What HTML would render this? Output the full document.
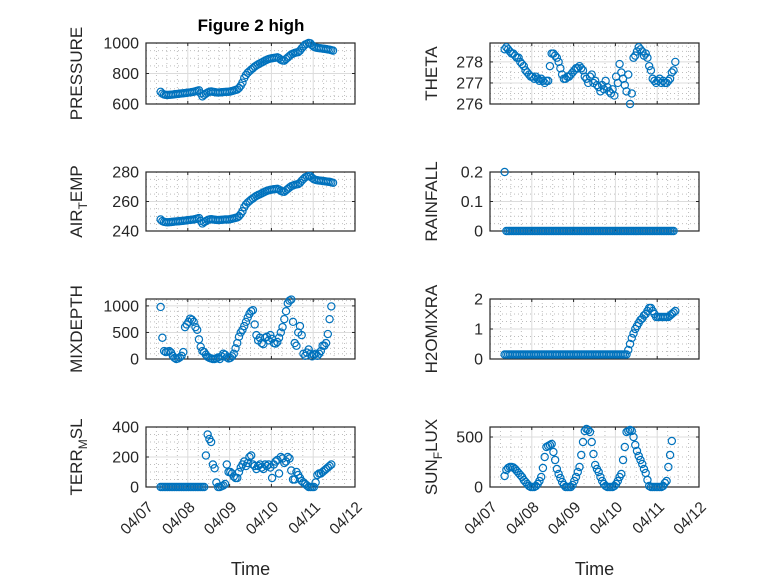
<!DOCTYPE html>
<html><head><meta charset="utf-8"><style>
html,body{margin:0;padding:0;background:#fff;}
svg{display:block;font-family:"Liberation Sans","DejaVu Sans",sans-serif;}
</style></head><body>
<svg id="fig" width="778" height="583" viewBox="0 0 778 583">
<rect width="778" height="583" fill="#fff"/>
<text x="251" y="31" text-anchor="middle" font-size="17" font-weight="bold" fill="#000">Figure 2 high</text>
</svg>
<script>
// shared time grid: days after 04/07 00:00, hourly samples
const tStart = 0.35;
const tStep = 1/24;
const xTickLabels = ["04/07","04/08","04/09","04/10","04/11","04/12"];

const pressureVals = [680,668,662,660,659,660,661,662,664,665,666,668,669,670,672,673,675,676,678,680,683,686,690,670,650,660,668,675,680,682,680,678,676,675,676,677,678,679,680,680,682,685,688,692,695,705,720,740,770,790,805,815,826,835,845,853,860,866,872,878,885,890,895,898,900,902,904,906,900,890,885,884,895,905,915,925,930,935,938,940,950,965,978,990,995,1000,998,985,975,970,968,966,965,963,962,960,958,956,953,950];
const airTempVals = [247.8,246.7,246.2,246.0,245.9,246.0,246.1,246.2,246.4,246.5,246.6,246.7,246.8,246.9,247.1,247.2,247.4,247.5,247.7,247.8,248.1,248.4,248.8,246.9,245.1,246.0,246.7,247.4,247.8,248.0,247.8,247.7,247.5,247.4,247.5,247.6,247.7,247.8,247.8,247.8,248.0,248.3,248.6,248.9,249.2,250.1,251.5,253.4,256.1,258.0,259.3,260.3,261.3,262.1,263.0,263.8,264.4,264.9,265.5,266.1,266.7,267.2,267.6,267.9,268.1,268.3,268.4,268.6,268.1,267.2,266.7,266.6,267.6,268.5,269.5,270.4,270.8,271.3,271.6,271.8,272.7,274.1,275.3,276.4,276.9,277.3,277.2,276.0,275.1,274.6,274.4,274.2,274.1,273.9,273.8,273.6,273.4,273.3,273.0,272.7];
const mixDepthVals = [980,400,150,130,140,150,120,60,20,0,10,30,60,130,600,650,700,760,740,700,600,550,370,230,150,130,80,40,20,10,0,0,10,30,0,50,100,80,30,10,20,50,100,200,300,420,500,550,620,700,780,850,900,920,650,450,350,400,300,280,400,420,350,450,380,300,290,320,400,500,600,750,900,1050,1100,1120,700,300,250,500,620,450,100,60,120,180,100,50,80,100,60,100,150,250,250,300,470,750,990];
const terrMslVals = [0,0,0,0,0,0,0,0,0,0,0,0,0,0,0,0,0,0,0,0,0,0,0,0,0,0,210,350,320,300,150,125,30,0,0,5,10,20,150,100,100,90,70,60,60,100,130,150,170,140,160,200,210,150,140,120,140,150,130,120,150,140,150,130,60,150,170,180,90,200,190,160,170,200,190,110,50,50,100,80,60,40,30,20,10,0,0,0,0,30,80,90,90,100,110,120,130,140,150];
const thetaVals = [278.6,278.7,278.6,278.5,278.4,278.4,278.3,278.2,278.2,278.0,277.9,277.8,277.6,277.5,277.4,277.3,277.3,277.2,277.3,277.2,277.1,277.2,277.1,277.0,277.1,277.1,277.8,278.4,278.4,278.3,278.2,278.0,277.7,277.4,277.2,277.2,277.3,277.3,277.4,277.5,277.6,277.7,277.7,277.8,277.7,277.6,277.3,277.2,277.0,277.3,277.4,277.0,277.1,276.9,276.8,276.6,276.9,276.7,277.1,276.8,276.6,276.5,276.7,276.4,277.3,277.0,277.9,277.5,277.2,276.9,276.6,277.4,276.0,276.5,278.2,278.3,278.5,278.7,278.6,278.5,278.3,278.4,278.2,277.8,277.6,277.2,277.1,277.0,277.1,277.2,277.0,277.1,277.0,277.0,277.1,277.2,277.5,277.6,278.0];
const rainfallVals = [0.2,0,0,0,0,0,0,0,0,0,0,0,0,0,0,0,0,0,0,0,0,0,0,0,0,0,0,0,0,0,0,0,0,0,0,0,0,0,0,0,0,0,0,0,0,0,0,0,0,0,0,0,0,0,0,0,0,0,0,0,0,0,0,0,0,0,0,0,0,0,0,0,0,0,0,0,0,0,0,0,0,0,0,0,0,0,0,0,0,0,0,0,0,0,0,0,0,0];
const h2oVals = [0.15,0.15,0.15,0.15,0.15,0.15,0.15,0.15,0.15,0.15,0.15,0.15,0.15,0.15,0.15,0.15,0.15,0.15,0.15,0.15,0.15,0.15,0.15,0.15,0.15,0.15,0.15,0.15,0.15,0.15,0.15,0.15,0.15,0.15,0.15,0.15,0.15,0.15,0.15,0.15,0.15,0.15,0.15,0.15,0.15,0.15,0.15,0.15,0.15,0.15,0.15,0.15,0.15,0.15,0.15,0.15,0.15,0.15,0.15,0.15,0.15,0.15,0.15,0.15,0.15,0.15,0.15,0.15,0.15,0.15,0.15,0.3,0.5,0.7,0.85,1.0,1.1,1.2,1.3,1.35,1.45,1.5,1.6,1.7,1.7,1.6,1.5,1.4,1.4,1.4,1.4,1.4,1.4,1.4,1.4,1.45,1.5,1.55,1.6];
const sunFluxVals = [110,170,190,200,200,195,180,160,140,120,100,70,50,30,10,0,0,0,10,30,60,100,190,300,400,410,420,430,350,270,180,130,90,50,20,0,0,0,0,20,60,100,150,200,320,450,560,580,570,550,450,330,220,180,150,100,60,30,10,0,0,0,0,10,30,60,100,130,270,400,550,560,570,560,500,420,360,310,270,230,180,140,70,10,0,0,0,0,0,0,0,10,40,60,200,320,460];

const pressureTicks = [600,800,1000];
const thetaTicks = [276,277,278];
const airTempTicks = [240,260,280];
const rainfallTicks = [0,0.1,0.2];
const mixDepthTicks = [0,500,1000];
const h2oTicks = [0,1,2];
const terrTicks = [0,200,400];
const sunTicks = [0,500];

const NS = "http://www.w3.org/2000/svg";
const svg = document.getElementById("fig");
function mk(tag, attrs, parent){
  const e = document.createElementNS(NS, tag);
  for (const k in attrs) e.setAttribute(k, attrs[k]);
  (parent||svg).appendChild(e);
  return e;
}
const panels = [
  {id:"pressure", vals:pressureVals, ticks:pressureTicks, ymin:600, ymax:1000, minor:50, x0:146, y0:43, y1:104, lo:69, label:["PRESSURE"]},
  {id:"theta", vals:thetaVals, ticks:thetaTicks, ymin:276, ymax:278.9, minor:0.25, x0:490, y0:43, y1:104, lo:58, label:["THETA"]},
  {id:"air-temp", vals:airTempVals, ticks:airTempTicks, ymin:240, ymax:280, minor:5, x0:146, y0:172, y1:231, lo:69, label:["AIR","T","EMP"]},
  {id:"rainfall", vals:rainfallVals, ticks:rainfallTicks, ymin:0, ymax:0.2, minor:0.025, x0:490, y0:172, y1:231, lo:58, label:["RAINFALL"]},
  {id:"mixdepth", vals:mixDepthVals, ticks:mixDepthTicks, ymin:0, ymax:1130, minor:100, x0:146, y0:299, y1:359, lo:69, label:["MIXDEPTH"]},
  {id:"h2omixra", vals:h2oVals, ticks:h2oTicks, ymin:0, ymax:2, minor:0.25, x0:490, y0:299, y1:359, lo:58, label:["H2OMIXRA"]},
  {id:"terr-msl", vals:terrMslVals, ticks:terrTicks, ymin:0, ymax:400, minor:50, x0:146, y0:427, y1:487, lo:69, label:["TERR","M","SL"], bottom:true},
  {id:"sun-flux", vals:sunFluxVals, ticks:sunTicks, ymin:0, ymax:600, minor:100, x0:490, y0:427, y1:487, lo:58, label:["SUN","F","LUX"], bottom:true}
];
const W = 209, XDAYS = 5;
panels.forEach(p=>{
  const g = mk("g", {});
  
  
  const xs = d => p.x0 + d / XDAYS * W;
  const ys = v => p.y1 - (v - p.ymin) / (p.ymax - p.ymin) * (p.y1 - p.y0);
  mk("rect", {x:p.x0, y:p.y0, width:W, height:p.y1-p.y0, fill:"#fff"}, g);
  for (let h = 0; h <= XDAYS*4; h++) {
    if (h % 4 === 0) continue;
    const x = xs(h/4);
    mk("line", {x1:x, x2:x, y1:p.y0, y2:p.y1, stroke:"#bdbdbd", "stroke-width":1, "stroke-dasharray":"1,3"}, g);
  }
  for (let v = p.ymin + p.minor; v < p.ymax - 1e-9; v += p.minor) {
    if (p.ticks.some(t => Math.abs(t - v) < 1e-6)) continue;
    const y = ys(v);
    mk("line", {x1:p.x0, x2:p.x0+W, y1:y, y2:y, stroke:"#bdbdbd", "stroke-width":1, "stroke-dasharray":"1,3"}, g);
  }
  xTickLabels.forEach((lab, k) => {
    const x = xs(k);
    mk("line", {x1:x, x2:x, y1:p.y0, y2:p.y1, stroke:"#dcdcdc", "stroke-width":1}, g);
    mk("line", {x1:x, x2:x, y1:p.y1, y2:p.y1-3, stroke:"#262626", "stroke-width":1}, g);
    mk("line", {x1:x, x2:x, y1:p.y0, y2:p.y0+3, stroke:"#262626", "stroke-width":1}, g);
    if (p.bottom) {
      const ax = x + 8, ay = p.y1 + 21;
      const tx = mk("text", {x:ax, y:ay, "text-anchor":"end", "font-size":15.5, fill:"#262626",
        transform:"rotate(-45 " + ax + " " + ay + ")"}, g);
      tx.textContent = lab;
      
      
    }
  });
  p.ticks.forEach(t => {
    const y = ys(t);
    if (y > p.y0 + 1 && y < p.y1 - 1) mk("line", {x1:p.x0, x2:p.x0+W, y1:y, y2:y, stroke:"#dcdcdc", "stroke-width":1}, g);
    mk("line", {x1:p.x0, x2:p.x0+3, y1:y, y2:y, stroke:"#262626", "stroke-width":1}, g);
    mk("line", {x1:p.x0+W, x2:p.x0+W-3, y1:y, y2:y, stroke:"#262626", "stroke-width":1}, g);
    const tl = mk("text", {x:p.x0-7, y:y+5.5, "text-anchor":"end", "font-size":16, fill:"#262626"}, g);
    tl.textContent = String(t);
    
    
  });
  mk("rect", {x:p.x0, y:p.y0, width:W, height:p.y1-p.y0, fill:"none", stroke:"#262626", "stroke-width":1.2}, g);
  const sg = mk("g", {fill:"none", stroke:"#0072BD", "stroke-width":1.2}, g);
  
  
  p.vals.forEach((v, i) => {
    const c = mk("circle", {cx:xs(tStart + i*tStep), cy:ys(v), r:3.6}, sg);
    
    
  });
  const lx = p.x0 - p.lo + 5, ly = (p.y0 + p.y1) / 2;
  const yl = mk("text", {x:lx, y:ly, "text-anchor":"middle", "font-size":17, fill:"#262626",
    transform:"rotate(-90 " + lx + " " + ly + ")"}, g);
  
  
  if (p.label.length === 1) { yl.textContent = p.label[0]; }
  else {
    const a = mk("tspan", {}, yl); a.textContent = p.label[0];
    const b = mk("tspan", {"font-size":12, dy:5}, yl); b.textContent = p.label[1];
    const c = mk("tspan", {dy:-5}, yl); c.textContent = p.label[2];
  }
  if (p.bottom) {
    const xl = mk("text", {x:p.x0 + W/2, y:575, "text-anchor":"middle", "font-size":18, fill:"#262626"}, g);
    xl.textContent = "Time";
    
    
  }
});
</script>
</body></html>
